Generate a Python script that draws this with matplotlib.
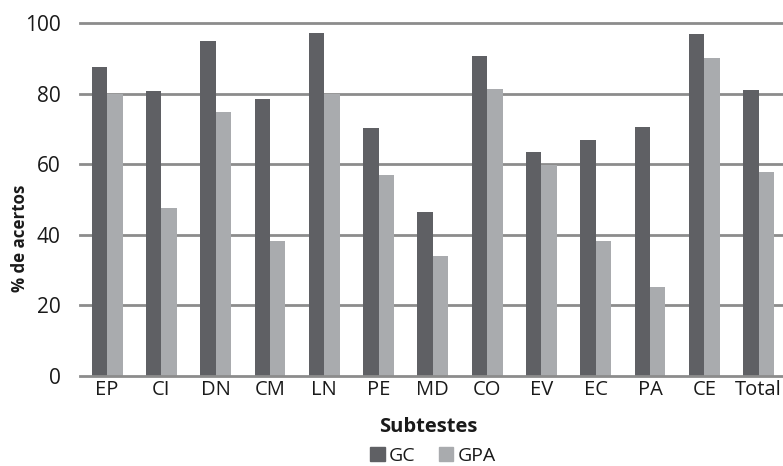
import matplotlib
matplotlib.use("Agg")
import matplotlib.pyplot as plt
import numpy as np
from matplotlib.patches import Patch

categories = ["EP", "CI", "DN", "CM", "LN", "PE", "MD", "CO", "EV", "EC", "PA", "CE", "Total"]
gc_values = [87.6, 80.7, 94.9, 78.5, 97.2, 70.3, 46.4, 90.7, 63.5, 66.8, 70.6, 97.0, 81.1]
gpa_values = [80.0, 47.5, 74.7, 38.2, 80.0, 56.9, 34.1, 81.2, 59.8, 38.2, 25.2, 90.0, 57.9]
y_ticks = [0, 20, 40, 60, 80, 100]

plt.rcParams['font.family'] = ['Open Sans', 'DejaVu Sans']

C_GC = "#5f6064"
C_GPA = "#a9abae"
C_GRID = "#8c8c8c"
C_TXT = "#1a1a1a"

fig = plt.figure(figsize=(7.83, 4.66), dpi=100)
ax = fig.add_axes([80/783, 90/466, 1 - 80/783, (376-23)/466])

x = np.arange(len(categories))
w = 0.285
ax.bar(x - w/2, gc_values, w, color=C_GC, zorder=3)
ax.bar(x + w/2, gpa_values, w, color=C_GPA, zorder=3)

ax.set_ylim(0, 100)
ax.set_xlim(-0.5, 12.45)
ax.set_yticks(y_ticks)
ax.set_xticks(x)
ax.set_xticklabels(categories, fontsize=14.5, color=C_TXT)
ax.tick_params(axis='y', length=0, labelsize=15, pad=14, labelcolor=C_TXT)
ax.tick_params(axis='x', length=0, pad=3)
for yv in y_ticks[1:]:
    ax.axhline(yv, color=C_GRID, lw=2, zorder=1, clip_on=False)
for s in ["top", "right", "left"]:
    ax.spines[s].set_visible(False)
ax.spines["bottom"].set_color(C_GRID)
ax.spines["bottom"].set_linewidth(2)
ax.spines["bottom"].set_zorder(4)

fig.text(20/783, 1 - 238/466, "% de acertos", fontsize=12.2, fontweight="bold",
         rotation=90, ha="center", va="center", color=C_TXT)
fig.text(428/783, 1 - 427/466, "Subtestes", fontsize=14.5, fontweight="bold",
         ha="center", va="center", color=C_TXT)

handles = [Patch(color=C_GC, label="GC"), Patch(color=C_GPA, label="GPA")]
leg = fig.legend(handles=handles, loc="center", bbox_to_anchor=(433/783, 1 - 456/466), ncol=2,
                 frameon=False, fontsize=14, handlelength=0.75, handleheight=0.75,
                 handletextpad=0.2, columnspacing=1.2, borderaxespad=0)
for t in leg.get_texts():
    t.set_color(C_TXT)

fig.savefig("out.png", dpi=100)
